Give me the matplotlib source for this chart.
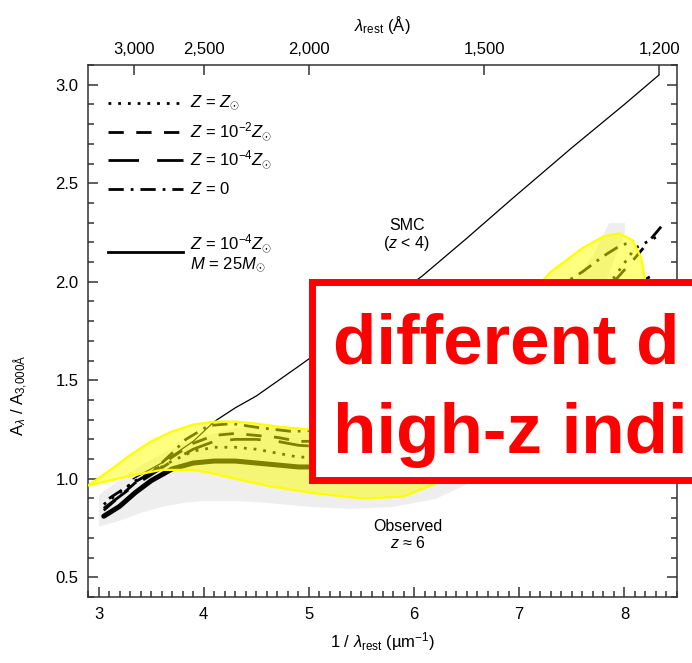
import numpy as np
import matplotlib
matplotlib.use("Agg")
import matplotlib.pyplot as plt
from matplotlib.patches import Polygon, Rectangle
from matplotlib.ticker import MultipleLocator, FormatStrFormatter

plt.rcParams['font.family'] = ['Liberation Sans', 'DejaVu Sans']
plt.rcParams['mathtext.fontset'] = 'custom'
plt.rcParams['mathtext.rm'] = 'Liberation Sans'
plt.rcParams['mathtext.it'] = 'Liberation Sans:italic'
plt.rcParams['mathtext.bf'] = 'Liberation Sans:bold'

# SMC curve (z < 4), normalised at 3000 A
smc_x = [3.33, 3.6, 3.9, 4.1, 4.3, 4.5, 4.9, 5.5, 6.08, 6.5, 6.93, 7.5, 8.0, 8.33]
smc_y = [1.0, 1.08, 1.19, 1.29, 1.36, 1.42, 1.57, 1.80, 2.03, 2.22, 2.42, 2.68, 2.90, 3.05]

# model extinction curves
mx = [3.05, 3.2, 3.35, 3.5, 3.7, 3.9, 4.1, 4.3, 4.5, 4.7, 4.9, 5.2, 5.5, 5.8,
      6.1, 6.4, 6.7, 7.0, 7.3, 7.6, 7.9, 8.1, 8.35]
z_sun = [0.87, 0.93, 0.99, 1.03, 1.09, 1.14, 1.16, 1.16, 1.15, 1.13, 1.11, 1.11, 1.13, 1.18,
         1.27, 1.38, 1.52, 1.67, 1.82, 1.93, 2.02, 2.17, 2.24]
z_em2 = [0.84, 0.91, 0.98, 1.03, 1.11, 1.18, 1.22, 1.23, 1.22, 1.21, 1.19, 1.19, 1.21, 1.27,
         1.36, 1.48, 1.62, 1.75, 1.86, 1.94, 2.0, 2.12, 2.28]
z_em4 = [0.85, 0.91, 0.97, 1.02, 1.09, 1.15, 1.19, 1.2, 1.2, 1.19, 1.17, 1.16, 1.17, 1.21,
         1.28, 1.37, 1.48, 1.6, 1.72, 1.83, 1.92, 1.98, 2.06]
z_m25 = [0.81, 0.86, 0.93, 0.99, 1.05, 1.08, 1.09, 1.09, 1.08, 1.07, 1.06, 1.06, 1.08, 1.13,
         1.2, 1.29, 1.39, 1.5, 1.6, 1.7, 1.79, 1.85, 1.9]
z0_x = [3.1, 3.3, 3.5, 3.7, 3.83, 4.05, 4.27, 4.52, 4.84, 5.2, 5.5, 5.8, 6.1, 6.4,
        6.7, 7.0, 7.3, 7.6, 7.8, 7.95, 8.05]
z0_y = [0.9, 0.97, 1.03, 1.13, 1.2, 1.27, 1.28, 1.26, 1.24, 1.25, 1.28, 1.35, 1.45, 1.58,
        1.72, 1.84, 1.95, 2.05, 2.13, 2.18, 2.2]

# observed z~6 region
obs_x = [3.0, 3.2, 3.4, 3.6, 3.8, 4.0, 4.3, 4.6, 5.0, 5.4, 5.8, 6.2, 6.6, 7.0, 7.4, 7.7, 7.85, 8.0]
obs_lo = [0.76, 0.79, 0.83, 0.86, 0.88, 0.89, 0.89, 0.88, 0.86, 0.85, 0.86, 0.9, 1.0, 1.2,
          1.5, 1.8, 2.05, 2.25]
obs_hi = [0.92, 1.0, 1.07, 1.13, 1.18, 1.22, 1.26, 1.27, 1.25, 1.25, 1.28, 1.36, 1.5, 1.7,
          1.92, 2.14, 2.3, 2.3]

# highlighted envelope
hl_top_x = [2.9, 3.1, 3.3, 3.5, 3.7, 3.9, 4.1, 4.3, 4.5, 4.7, 5.0, 5.4, 5.8, 6.2, 6.6, 7.0,
            7.3, 7.6, 7.8, 7.95, 8.08, 8.16, 8.2]
hl_top_y = [0.965, 1.04, 1.12, 1.19, 1.24, 1.275, 1.29, 1.29, 1.28, 1.265, 1.25, 1.25, 1.29,
            1.4, 1.62, 1.88, 2.05, 2.17, 2.23, 2.245, 2.21, 2.12, 2.0]
hl_bot_x = [2.9, 3.1, 3.3, 3.6, 3.9, 4.1, 4.3, 4.6, 5.0, 5.5, 5.9, 6.2, 6.6, 7.0, 7.4, 7.8,
            8.1, 8.2]
hl_bot_y = [0.965, 0.99, 1.015, 1.045, 1.045, 1.025, 1.0, 0.965, 0.93, 0.9, 0.91, 0.975, 1.1,
            1.25, 1.45, 1.67, 1.85, 2.0]

wl_ticks = [3000, 2500, 2000, 1500, 1200]
wl_labels = ['3,000', '2,500', '2,000', '1,500', '1,200']

fig = plt.figure(figsize=(6.92, 6.63), dpi=100)
ax = fig.add_axes([88/692, 1-597/663, 589/692, 532/663])

ax.fill_between(obs_x, obs_lo, obs_hi, color='#eeeeee', lw=0, zorder=1)

ax.plot(smc_x, smc_y, color='k', lw=0.9, zorder=3)
ax.plot(mx, z_m25, color='k', lw=3.6, solid_capstyle='round', zorder=3)
ax.plot(mx, z_em4, color='k', lw=2, linestyle=(0, (11, 6.5)), zorder=3)
ax.plot(mx, z_em2, color='k', lw=2, linestyle=(0, (5.5, 4.5)), zorder=3)
ax.plot(mx, z_sun, color='k', lw=2, linestyle=(0, (1, 2.5)), zorder=3)
ax.plot(z0_x, z0_y, color='k', lw=2, linestyle=(0, (5.5, 2.5, 1, 2.5)), zorder=3)

band = list(zip(hl_top_x, hl_top_y)) + list(zip(hl_bot_x, hl_bot_y))[::-1]
ax.add_patch(Polygon(band, closed=True, facecolor=(1, 1, 0, 0.5),
                     edgecolor=(1, 1, 0, 1), lw=1.6, zorder=4))

ax.text(5.93, 2.235, 'SMC\n($z$ < 4)', ha='center', va='center', fontsize=11.5,
        linespacing=1.1, zorder=5)
ax.text(5.94, 0.714, 'Observed\n$z$ ≈ 6', ha='center', va='center', fontsize=11.5,
        linespacing=1.1, zorder=5)

# legend drawn by hand
tr = ax.transAxes
leg = [((0, (1, 2.5)), 2, 0.929, r'$Z$ = $Z_{\odot}$'),
       ((0, (5.5, 4.5)), 2, 0.874, r'$Z$ = 10$^{-2}Z_{\odot}$'),
       ((0, (11, 6.5)), 2, 0.821, r'$Z$ = 10$^{-4}Z_{\odot}$'),
       ((0, (5.5, 2.5, 1, 2.5)), 2, 0.767, r'$Z$ = 0')]
for ls, lw, yy, lab in leg:
    ax.plot([0.034, 0.161], [yy, yy], transform=tr, color='k', lw=lw, linestyle=ls)
    ax.text(0.173, yy, lab, transform=tr, va='center', fontsize=12)
ax.plot([0.034, 0.161], [0.648, 0.648], transform=tr, color='k', lw=2)
ax.text(0.173, 0.664, r'$Z$ = 10$^{-4}Z_{\odot}$', transform=tr, va='center', fontsize=12)
ax.text(0.173, 0.624, r'$M$ = 25$M_{\odot}$', transform=tr, va='center', fontsize=12)

ax.set_xlim(2.9, 8.5)
ax.set_ylim(0.4, 3.1)
ax.set_xticks([3, 4, 5, 6, 7, 8])
ax.set_yticks([0.5, 1.0, 1.5, 2.0, 2.5, 3.0])
ax.yaxis.set_major_formatter(FormatStrFormatter('%.1f'))
ax.xaxis.set_minor_locator(MultipleLocator(0.1))
ax.yaxis.set_minor_locator(MultipleLocator(0.1))
ax.tick_params(which='both', direction='in', top=False, right=True, labelsize=12,
               color='#333333', width=1.1)
ax.tick_params(which='major', length=7, pad=7)
ax.tick_params(which='minor', length=4)
for s in ax.spines.values():
    s.set_color('#333333')
    s.set_linewidth(1.1)

ax.set_xlabel(r'1 / $\lambda_{\mathrm{rest}}$ (µm$^{-1}$)', fontsize=12, labelpad=6)
ax.set_ylabel(r'A$_{\lambda}$ / A$_{\mathrm{3{,}000\AA}}$', fontsize=12)
ax.yaxis.set_label_coords(-0.098, 0.38)

ax2 = ax.twiny()
ax2.set_xlim(ax.get_xlim())
ax2.set_xticks(1e4 / np.array(wl_ticks))
ax2.set_xticklabels(wl_labels)
ax2.tick_params(direction='in', length=7, pad=6, labelsize=12, color='#333333', width=1.1)
ax2.set_xlabel(r'$\lambda_{\mathrm{rest}}$ (Å)', fontsize=12, labelpad=8)
for s in ax2.spines.values():
    s.set_visible(False)

# callout box
fig.add_artist(Rectangle((311.5/692, 1-480/663), 500/692, 198.5/663,
                         transform=fig.transFigure, facecolor='white',
                         edgecolor='#ff0000', lw=5, zorder=10))
fig.text(333/692, 1-363/663, 'different d', color='#ff0000', fontsize=51,
         fontweight='bold', va='baseline', ha='left', zorder=11)
fig.text(333/692, 1-453/663, 'high-z indi', color='#ff0000', fontsize=51,
         fontweight='bold', va='baseline', ha='left', zorder=11)

fig.savefig('out.png', dpi=100)
